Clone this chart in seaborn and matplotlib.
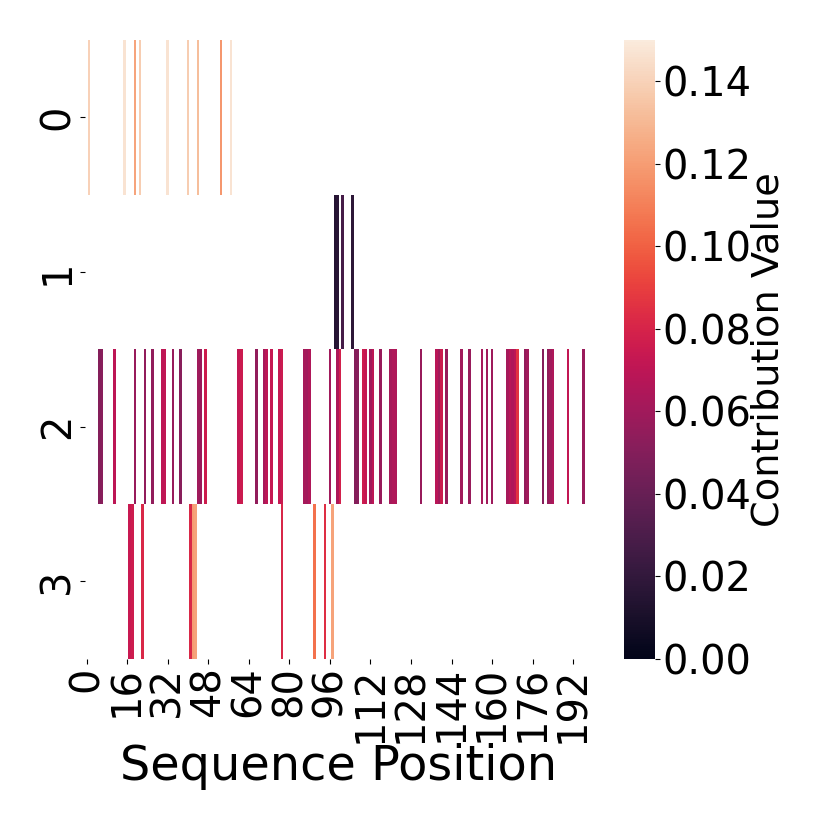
import numpy as np
import matplotlib
matplotlib.use('Agg')
import matplotlib.pyplot as plt
import seaborn as sns

#sequence length and row labels
SEQ_LEN = 200
row_labels = ['0', '1', '2', '3']
cbar_ticks = [0.00, 0.02, 0.04, 0.06, 0.08, 0.10, 0.12, 0.14]

#row 0: sparse light contributions
row0_pos = [1, 15, 19, 21, 32, 40, 44, 53, 57]
row0_val = [0.140, 0.147, 0.123, 0.138, 0.147, 0.138, 0.132, 0.118, 0.147]

#row 1: a few very low values
row1_pos = [98, 99, 101, 105]
row1_val = [0.015, 0.016, 0.028, 0.018]

#row 2: dense mid range values
row2_pos = [5, 6, 11, 19, 23, 26, 30, 31, 34, 37, 44, 45, 47, 60, 61,
            67, 70, 71, 73, 76, 77, 86, 87, 88, 96, 99, 100, 106, 107,
            109, 110, 112, 113, 116, 120, 121, 122,
            132, 138, 139, 140, 142, 148, 151, 156, 158, 160,
            166, 167, 168, 169, 170, 173, 174, 180, 182, 183, 184, 190, 196]
row2_val = [0.050, 0.052, 0.070, 0.057, 0.055, 0.055, 0.070, 0.071, 0.057, 0.052, 0.060, 0.058, 0.076, 0.072, 0.075,
            0.055, 0.062, 0.070, 0.073, 0.073, 0.075, 0.062, 0.060, 0.065, 0.060, 0.064, 0.078, 0.050, 0.051,
            0.076, 0.073, 0.060, 0.070, 0.057, 0.062, 0.065, 0.065,
            0.057, 0.068, 0.060, 0.075, 0.057, 0.060, 0.057, 0.062, 0.060, 0.059,
            0.062, 0.068, 0.065, 0.070, 0.086, 0.055, 0.060, 0.050, 0.055, 0.060, 0.065, 0.072, 0.058]

#row 3: a handful of higher values
row3_pos = [17, 18, 22, 41, 42, 43, 77, 90, 94, 97]
row3_val = [0.074, 0.076, 0.082, 0.082, 0.120, 0.122, 0.081, 0.105, 0.084, 0.122]

rows_pos = [row0_pos, row1_pos, row2_pos, row3_pos]
rows_val = [row0_val, row1_val, row2_val, row3_val]

data = np.full((len(row_labels), SEQ_LEN), np.nan)
for r, (pos, val) in enumerate(zip(rows_pos, rows_val)):
    data[r, pos] = val

fig = plt.figure(figsize=(8.3, 8.3), dpi=100)
W = H = 830.0
col_w = 2.534
ax = fig.add_axes([85.4 / W, (H - 658.5) / H, SEQ_LEN * col_w / W, 618.5 / H])
cax = fig.add_axes([624.3 / W, (H - 658.5) / H, 30.7 / W, 618.5 / H])

sns.heatmap(data, ax=ax, cbar_ax=cax, cmap='rocket', vmin=0, vmax=0.15,
            xticklabels=16, yticklabels=row_labels,
            cbar_kws={'label': 'Contribution Value', 'ticks': cbar_ticks})

ax.tick_params(axis='both', labelsize=28.8, pad=2)
ax.set_xticklabels(ax.get_xticklabels(), rotation=90)
ax.set_yticklabels(row_labels, rotation=90, va='center')
ax.set_xlabel('Sequence Position', fontsize=34.5, labelpad=0.5)

cax.set_yticks(cbar_ticks)
cax.set_yticklabels([f'{t:.2f}' for t in cbar_ticks])
cax.tick_params(labelsize=28.8, pad=1.5)
cax.set_ylabel('Contribution Value', fontsize=27.5, labelpad=0)

fig.savefig('out.png', dpi=100)
